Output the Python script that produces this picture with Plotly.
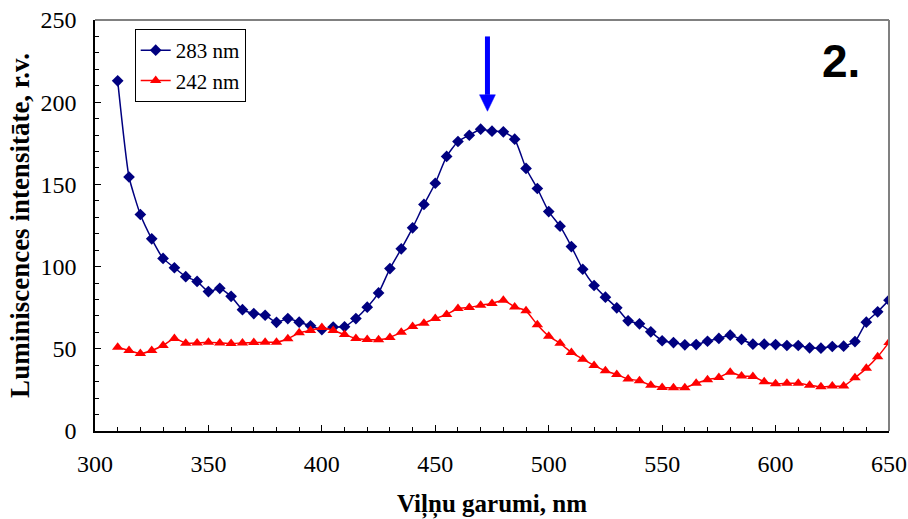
import plotly.graph_objects as go

# Wavelength grid (nm)
wavelength = list(range(310, 651, 5))

# Luminescence intensity, excitation 283 nm
ex_283 = [213.0, 154.5, 131.7, 116.9, 105.0, 99.3, 93.9, 91.0, 84.8, 86.8,
          81.9, 73.8, 71.4, 70.4, 66.1, 68.4, 66.2, 64.0, 61.7, 63.2,
          63.4, 68.4, 75.3, 84.0, 98.8, 110.8, 123.6, 137.8, 150.7, 167.0,
          176.1, 179.9, 183.6, 182.4, 182.0, 177.5, 159.7, 147.5, 133.5, 124.6,
          112.2, 98.4, 88.5, 81.4, 74.9, 67.0, 65.2, 60.3, 54.9, 53.8,
          52.4, 52.6, 54.6, 56.3, 58.3, 55.7, 52.8, 52.8, 52.6, 52.0,
          52.0, 50.6, 50.4, 51.4, 51.6, 54.4, 66.2, 72.5, 79.6]

# Luminescence intensity, excitation 242 nm
ex_242 = [51.0, 49.0, 47.1, 49.0, 52.0, 56.3, 53.4, 53.6, 54.0, 53.6,
          53.2, 53.6, 53.8, 54.0, 54.0, 56.1, 59.7, 61.1, 63.0, 61.1,
          58.7, 56.3, 55.7, 55.5, 56.9, 60.1, 63.6, 65.6, 68.4, 70.9,
          74.5, 75.1, 76.5, 77.6, 79.6, 75.5, 73.1, 64.6, 57.7, 53.3,
          47.8, 43.7, 39.9, 36.6, 34.4, 31.6, 30.6, 27.8, 26.5, 26.3,
          26.3, 29.0, 31.2, 32.6, 35.8, 33.4, 33.2, 30.0, 28.7, 29.0,
          29.0, 27.9, 26.9, 27.3, 27.3, 32.4, 38.1, 45.1, 53.9]

series_names = ["283 nm", "242 nm"]
x_ticks = [300, 350, 400, 450, 500, 550, 600, 650]
y_ticks = [0, 50, 100, 150, 200, 250]

# Peak marker position (nm) and its vertical extent
peak_nm = 473
arrow_top, arrow_neck, arrow_tip = 240.0, 204.5, 194.5

serif = "Liberation Serif, Times New Roman, serif"

fig = go.Figure()
fig.add_trace(go.Scatter(
    x=wavelength, y=ex_283, name=series_names[0], mode="lines+markers",
    line=dict(color="#000080", width=1.5, shape="spline", smoothing=0.5),
    marker=dict(symbol="diamond", size=9, color="#000080"),
))
fig.add_trace(go.Scatter(
    x=wavelength, y=ex_242, name=series_names[1], mode="lines+markers",
    line=dict(color="#FF0000", width=1.5, shape="spline", smoothing=0.5),
    marker=dict(symbol="triangle-up", size=10, color="#FF0000"),
))

# Downward arrow over the emission peak
fig.add_shape(type="line", xref="x", yref="y",
              x0=peak_nm, x1=peak_nm, y0=arrow_top, y1=arrow_neck,
              line=dict(color="#0000FF", width=5))
fig.add_shape(type="path", xref="x", yref="y",
              path=f"M {peak_nm - 3.5} {arrow_neck} L {peak_nm + 3.5} {arrow_neck} "
                   f"L {peak_nm} {arrow_tip} Z",
              fillcolor="#0000FF", line=dict(color="#0000FF", width=0.5))

# Grey top/right frame of the plot area
fig.add_shape(type="line", xref="paper", yref="paper", x0=0, x1=1, y0=1, y1=1,
              line=dict(color="#808080", width=2))
fig.add_shape(type="line", xref="paper", yref="paper", x0=1, x1=1, y0=0, y1=1,
              line=dict(color="#808080", width=2))

fig.add_annotation(text="<b>2.</b>", xref="paper", yref="paper",
                   x=0.94, y=0.90, xanchor="center", yanchor="middle",
                   showarrow=False,
                   font=dict(family="Liberation Sans, Arial, sans-serif", size=46, color="black"))

fig.update_layout(
    width=908, height=519,
    margin=dict(l=95, r=19, t=20, b=88),
    paper_bgcolor="white", plot_bgcolor="white",
    font=dict(family=serif, size=24, color="black"),
    showlegend=True,
    legend=dict(x=0.05, y=0.978, xanchor="left", yanchor="top",
                bgcolor="white", bordercolor="black", borderwidth=1,
                font=dict(family=serif, size=21, color="black"),
                tracegroupgap=0, itemwidth=30),
    xaxis=dict(
        range=[300, 650], tickvals=x_ticks, ticks="inside", ticklen=6,
        tickcolor="black", showline=True, linecolor="black", linewidth=1.5,
        showgrid=False, zeroline=False, ticklabelstandoff=10, automargin=False,
        minor=dict(dtick=10, tick0=300, ticks="inside", ticklen=4, tickcolor="black"),
        title=dict(text="<b>Viļņu garumi, nm</b>", standoff=30,
                   font=dict(family=serif, size=25)),
    ),
    yaxis=dict(
        range=[0, 250], tickvals=y_ticks, ticks="inside", ticklen=6,
        tickcolor="black", showline=True, linecolor="black", linewidth=1.5,
        showgrid=False, zeroline=False, ticklabelstandoff=12, automargin=False,
        minor=dict(dtick=10, tick0=0, ticks="inside", ticklen=4, tickcolor="black"),
        title=dict(text="<b>Luminiscences intensitāte, r.v.</b>", standoff=3,
                   font=dict(family=serif, size=27)),
    ),
)

fig.write_html("out.html")
